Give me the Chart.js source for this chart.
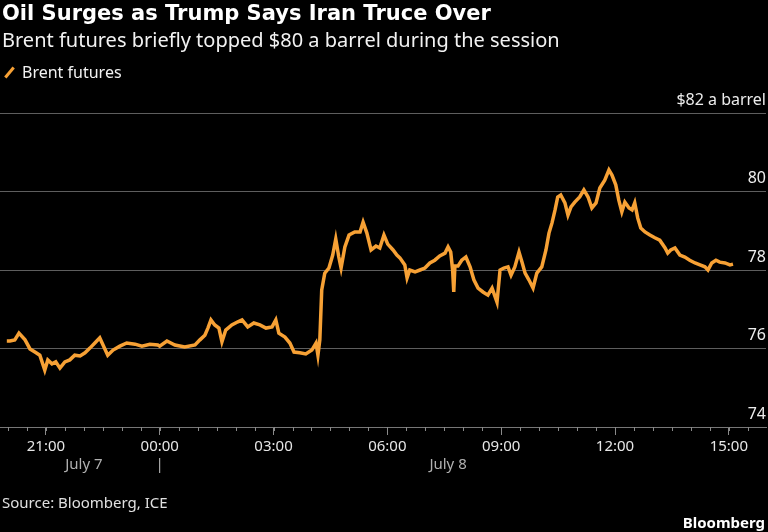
<!DOCTYPE html>
<html>
<head>
<meta charset="utf-8">
<script src="https://cdn.jsdelivr.net/npm/chart.js@4"></script>
<style>
  body { margin: 0; background: #000; font-family: "Noto Sans", sans-serif; }
  #wrap { position: relative; width: 768px; height: 532px; overflow: hidden; }
  canvas { position: absolute; left: 0; top: 0; }
  .txt { position: absolute; white-space: nowrap; color: #f2f2f2; }
  #title { left: 2px; top: 0px; font-family: "DejaVu Sans", sans-serif; font-size: 21px; font-weight: 700; line-height: 26px; color: #fff; }
  #subtitle { left: 2px; top: 26px; font-size: 20px; line-height: 28px; }
  #legend { left: 22px; top: 61px; font-size: 16px; line-height: 22px; }
  #swatch { position: absolute; left: 3px; top: 71px; width: 13px; height: 3px; background: #f7a135; transform: rotate(-50deg); }
  #source { left: 2px; top: 491px; font-size: 15px; line-height: 22px; color: #e0e0e0; }
  #brand { right: 3px; top: 511px; font-size: 15px; line-height: 22px; font-weight: 700; color: #fff; }
</style>
</head>
<body>
<div id="wrap">
  <canvas id="chart" width="768" height="532"></canvas>
  <div class="txt" id="title">Oil Surges as Trump Says Iran Truce Over</div>
  <div class="txt" id="subtitle">Brent futures briefly topped $80 a barrel during the session</div>
  <div id="swatch"></div>
  <div class="txt" id="legend">Brent futures</div>
  <div class="txt" id="source">Source: Bloomberg, ICE</div>
  <div class="txt" id="brand">Bloomberg</div>
</div>
<script>
// hours from midnight starting July 8 (negative = evening before)
const hours = [
  -4.03, -3.95, -3.82, -3.71, -3.55, -3.42, -3.29, -3.16, -3.03, -2.95,
  -2.84, -2.74, -2.63, -2.50, -2.37, -2.24, -2.10, -1.97, -1.84, -1.71,
  -1.58, -1.47, -1.37, -1.23, -1.05, -0.87, -0.65, -0.47, -0.26, -0.05,
  0.00, 0.19, 0.40, 0.66, 0.93, 1.06, 1.19, 1.27, 1.35, 1.45,
  1.56, 1.64, 1.74, 1.90, 2.06, 2.17, 2.32, 2.48, 2.64, 2.80,
  2.96, 3.06, 3.14, 3.30, 3.43, 3.54, 3.69, 3.85, 4.01, 4.12,
  4.17, 4.22, 4.27, 4.35, 4.46, 4.56, 4.64, 4.72, 4.78, 4.88,
  4.99, 5.14, 5.28, 5.36, 5.46, 5.57, 5.70, 5.80, 5.91, 6.01,
  6.15, 6.25, 6.33, 6.46, 6.52, 6.59, 6.73, 6.86, 6.99, 7.12,
  7.25, 7.38, 7.52, 7.60, 7.67, 7.72, 7.75, 7.78, 7.86, 7.96,
  8.07, 8.18, 8.28, 8.39, 8.52, 8.65, 8.76, 8.89, 8.97, 9.07,
  9.18, 9.26, 9.36, 9.47, 9.55, 9.63, 9.73, 9.84, 9.94, 10.07,
  10.18, 10.26, 10.34, 10.42, 10.49, 10.57, 10.68, 10.76, 10.84, 10.94,
  11.07, 11.18, 11.29, 11.39, 11.50, 11.60, 11.73, 11.84, 11.92, 12.02,
  12.10, 12.18, 12.26, 12.37, 12.45, 12.52, 12.60, 12.68, 12.79, 12.92,
  13.05, 13.18, 13.32, 13.39, 13.47, 13.58, 13.71, 13.84, 13.97, 14.11,
  14.24, 14.37, 14.45, 14.55, 14.66, 14.76, 14.90, 15.03, 15.11
];
const brent = [
  76.19, 76.19, 76.22, 76.39, 76.22, 75.99, 75.91, 75.83, 75.45, 75.71,
  75.61, 75.66, 75.50, 75.66, 75.71, 75.83, 75.81, 75.89, 76.01, 76.14,
  76.27, 76.04, 75.83, 75.96, 76.06, 76.14, 76.11, 76.06, 76.11, 76.09,
  76.06, 76.19, 76.09, 76.04, 76.09, 76.22, 76.34, 76.52, 76.73, 76.60,
  76.52, 76.17, 76.47, 76.60, 76.68, 76.73, 76.55, 76.65, 76.60, 76.52,
  76.55, 76.73, 76.39, 76.29, 76.14, 75.91, 75.89, 75.86, 75.96, 76.14,
  75.83, 76.22, 77.49, 77.92, 78.05, 78.38, 78.79, 78.33, 78.05, 78.59,
  78.89, 78.97, 78.97, 79.22, 78.94, 78.51, 78.61, 78.56, 78.89, 78.66,
  78.51, 78.38, 78.31, 78.13, 77.80, 78.00, 77.95, 78.00, 78.05, 78.18,
  78.25, 78.36, 78.43, 78.59, 78.46, 78.00, 77.44, 78.10, 78.10, 78.25,
  78.33, 78.08, 77.75, 77.54, 77.44, 77.36, 77.54, 77.18, 78.00, 78.05,
  78.08, 77.87, 78.08, 78.46, 78.20, 77.92, 77.75, 77.54, 77.92, 78.08,
  78.51, 78.94, 79.20, 79.53, 79.86, 79.91, 79.71, 79.40, 79.61, 79.73,
  79.86, 80.04, 79.86, 79.58, 79.71, 80.09, 80.29, 80.55, 80.42, 80.17,
  79.78, 79.48, 79.73, 79.58, 79.53, 79.71, 79.32, 79.07, 78.97, 78.89,
  78.82, 78.76, 78.56, 78.43, 78.51, 78.56, 78.38, 78.33, 78.25, 78.18,
  78.13, 78.08, 78.00, 78.18, 78.25, 78.20, 78.18, 78.13, 78.15
];
const yTicks = [74, 76, 78, 80, 82];
const dateLabels = ["July 7", "|", "July 8"];
const dateHours = [-2, 0, 7.6];

const axisExtras = {
  id: "axisExtras",
  afterDraw(chart) {
    const { ctx, scales: { x } } = chart;
    const base = chart.chartArea.bottom;
    ctx.save();
    ctx.strokeStyle = "#8a8a8a";
    ctx.lineWidth = 1;
    x.ticks.forEach((t) => {
      const px = Math.round(x.getPixelForValue(t.value)) + 0.5;
      ctx.beginPath();
      ctx.moveTo(px, base);
      ctx.lineTo(px, base + 4);
      ctx.stroke();
    });
    ctx.fillStyle = "#b0b0b0";
    ctx.font = '15px "Noto Sans"';
    ctx.textAlign = "center";
    ctx.textBaseline = "middle";
    dateLabels.forEach((label, i) => {
      ctx.fillText(label, x.getPixelForValue(dateHours[i]), base + 38);
    });
    ctx.restore();
  },
};

new Chart(document.getElementById("chart"), {
  type: "line",
  data: {
    datasets: [
      {
        label: "Brent futures",
        data: hours.map((h, i) => ({ x: h, y: brent[i] })),
        borderColor: "#f7a135",
        borderWidth: 3.5,
        pointRadius: 0,
        tension: 0,
      },
    ],
  },
  options: {
    responsive: false,
    animation: false,
    layout: {
      padding: { top: 113, right: 2, left: 0, bottom: 0 },
    },
    plugins: {
      legend: { display: false },
      tooltip: { enabled: false },
    },
    scales: {
      x: {
        type: "linear",
        min: -4.21,
        max: 15.98,
        afterBuildTicks: (scale) => {
          const ticks = [];
          for (let v = -4; v <= 15.5; v += 0.5) ticks.push({ value: v });
          scale.ticks = ticks;
        },
        afterFit: (scale) => {
          scale.height = 105;
        },
        grid: {
          drawOnChartArea: false,
          tickLength: 8,
          tickColor: (c) => (c.tick && c.tick.value % 3 === 0 ? "#8a8a8a" : "transparent"),
        },
        border: { display: true, color: "#777", width: 1 },
        ticks: {
          color: "#e6e6e6",
          font: { family: "Noto Sans", size: 15 },
          padding: 3,
          maxRotation: 0,
          autoSkip: false,
          callback: (v) => {
            if (v % 3 !== 0) return "";
            const h = ((v % 24) + 24) % 24;
            return String(h).padStart(2, "0") + ":00";
          },
        },
      },
      y: {
        position: "right",
        min: 74,
        max: 82,
        afterBuildTicks: (scale) => {
          scale.ticks = yTicks.map((v) => ({ value: v }));
        },
        afterFit: (scale) => {
          scale.width = 0;
        },
        grid: { color: "#5e5e5e", lineWidth: 1, drawTicks: false },
        border: { display: false },
        ticks: {
          mirror: true,
          padding: 0,
          labelOffset: -13,
          color: "#ececec",
          font: { family: "Noto Sans", size: 16 },
          callback: (v) => (v === 82 ? "$82 a barrel" : v),
        },
      },
    },
  },
  plugins: [axisExtras],
});
</script>
</body>
</html>
